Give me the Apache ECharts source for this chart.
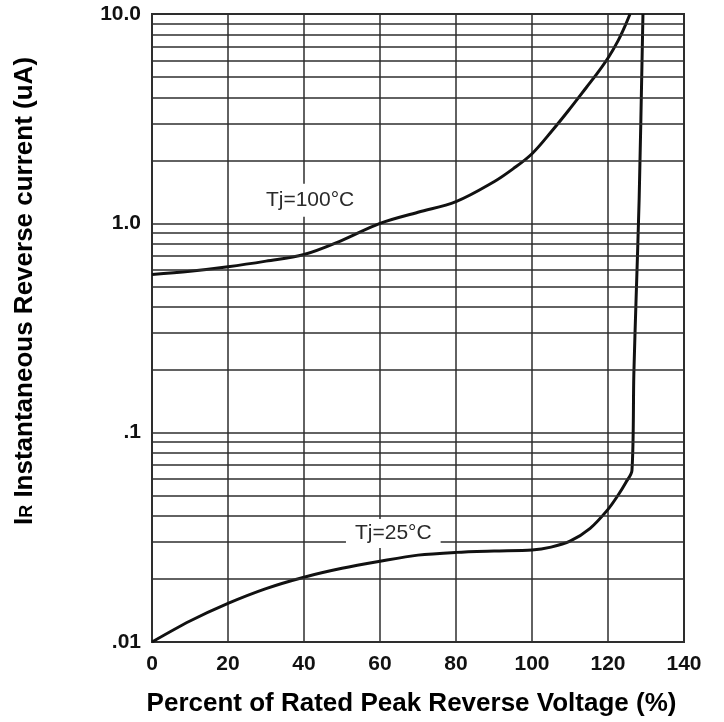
<!DOCTYPE html>
<html>
<head>
<meta charset="utf-8">
<script src="https://cdn.jsdelivr.net/npm/echarts@6/dist/echarts.min.js"></script>
<style>
html,body{margin:0;padding:0;background:#fff;}
#chart{width:724px;height:722px;}
</style>
</head>
<body>
<div id="chart"></div>
<script>
// X tick values (percent of rated peak reverse voltage)
var xTicks = [0, 20, 40, 60, 80, 100, 120, 140];
// Y tick labels (log decades)
var yTickValues = [0.01, 0.1, 1, 10];
var yTickLabels = ['.01', '.1', '1.0', '10.0'];

// Tj = 100 °C curve
var x100 = [0, 10, 20, 30, 40, 50, 60, 70, 80, 90, 95, 100, 105.5, 109.5, 114.4, 117.4, 120.3, 122.7, 124.2, 125.8];
var y100 = [0.57, 0.59, 0.62, 0.66, 0.71, 0.83, 1.0, 1.13, 1.27, 1.58, 1.82, 2.15, 2.8, 3.44, 4.48, 5.27, 6.28, 7.48, 8.53, 10];

// Tj = 25 °C curve
var x25 = [0, 10, 20, 30, 40, 50, 60, 70, 80, 90, 100, 105, 110, 115.3, 120, 122.6, 124.7, 126.3, 126.8, 127.4, 128.2, 129.2];
var y25 = [0.01, 0.0126, 0.0153, 0.018, 0.0204, 0.0225, 0.0243, 0.026, 0.0268, 0.0272, 0.0275, 0.0284, 0.0303, 0.0349, 0.043, 0.0501, 0.0578, 0.0659, 0.19, 0.44, 1.31, 10];

// Curve annotations
var annoText = ['Tj=100°C', 'Tj=25°C'];
var annoX = [41.6, 63.5];
var annoY = [1.29, 0.033];
var annoPad = [[6, 9, 6, 9], [4, 9, 4, 9]];

// minor log grid lines (2..9 in each decade)
var minorLines = [];
[0.01, 0.1, 1].forEach(function (d) {
  for (var k = 2; k <= 9; k++) minorLines.push({ yAxis: +(d * k).toPrecision(3) });
});

function pairs(xs, ys) { return xs.map(function (v, i) { return [v, ys[i]]; }); }

var FONT = 'Liberation Sans, Arial, sans-serif';
var gridColor = '#2e2e2e';
var chart = echarts.init(document.getElementById('chart'), null, { renderer: 'canvas' });
chart.setOption({
  backgroundColor: '#fff',
  animation: false,
  grid: { left: 152, right: 40, top: 14, bottom: 78, show: true, borderColor: gridColor, borderWidth: 2, backgroundColor: 'transparent' },
  xAxis: {
    type: 'value', min: xTicks[0], max: xTicks[xTicks.length - 1], interval: 20,
    name: 'Percent of Rated Peak Reverse Voltage (%)',
    nameLocation: 'middle', nameGap: 49,
    nameTextStyle: { fontFamily: FONT, fontWeight: 'bold', fontSize: 26, color: '#000', padding: [0, 13, 0, 0] },
    axisLine: { show: true, lineStyle: { color: gridColor, width: 2 } },
    axisTick: { show: false },
    axisLabel: { margin: 12, fontFamily: FONT, fontWeight: 'bold', fontSize: 21, color: '#111' },
    splitLine: { show: true, lineStyle: { color: gridColor, width: 1.5 } }
  },
  yAxis: {
    type: 'log', logBase: 10, min: yTickValues[0], max: yTickValues[yTickValues.length - 1],
    name: '{i|I}{r|R} Instantaneous Reverse current (uA)',
    nameLocation: 'middle', nameGap: 114, nameRotate: 90,
    nameTextStyle: {
      fontFamily: FONT, fontWeight: 'bold', fontSize: 26, color: '#000', padding: [0, 0, 0, 74],
      rich: {
        i: { fontFamily: FONT, fontWeight: 'bold', fontSize: 26, color: '#000' },
        r: { fontFamily: FONT, fontWeight: 'bold', fontSize: 18, color: '#000', padding: [5, 0, 0, 0] }
      }
    },
    axisLine: { show: true, lineStyle: { color: gridColor, width: 2 } },
    axisTick: { show: false },
    axisLabel: {
      margin: 11, fontFamily: FONT, fontWeight: 'bold', fontSize: 21, color: '#111',
      formatter: function (v) {
        for (var i = 0; i < yTickValues.length; i++) if (Math.abs(Math.log10(v) - Math.log10(yTickValues[i])) < 1e-6) return yTickLabels[i];
        return '';
      }
    },
    splitLine: { show: true, lineStyle: { color: gridColor, width: 1.5 } }
  },
  series: [
    {
      type: 'line', name: 'grid', data: [], z: 1, silent: true,
      markLine: {
        silent: true, symbol: ['none', 'none'], label: { show: false },
        lineStyle: { color: gridColor, width: 1.5, type: 'solid' },
        animation: false,
        data: minorLines
      }
    },
    {
      type: 'line', name: 'Tj=100°C', data: pairs(x100, y100), z: 3,
      showSymbol: false, smooth: 0.35,
      lineStyle: { color: '#111', width: 3 }
    },
    {
      type: 'line', name: 'Tj=25°C', data: pairs(x25, y25), z: 3,
      showSymbol: false, smooth: 0.3,
      lineStyle: { color: '#111', width: 3 }
    },
    {
      type: 'scatter', name: 'labels', z: 10, symbolSize: 0, silent: true,
      itemStyle: { opacity: 1 },
      data: annoX.map(function (v, i) {
        return { value: [v, annoY[i]], name: annoText[i], label: { padding: annoPad[i] } };
      }),
      label: {
        show: true, position: 'inside', formatter: '{b}', opacity: 1,
        fontFamily: FONT, fontSize: 21, color: '#2a2a2a',
        backgroundColor: '#fff'
      }
    }
  ]
});
</script>
</body>
</html>
